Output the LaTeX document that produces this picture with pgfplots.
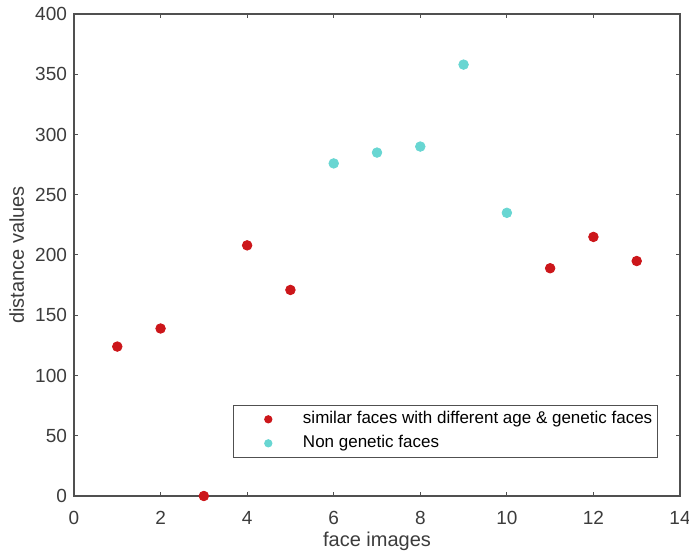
\documentclass[border=0pt]{standalone}
\usepackage{fontspec}
\setmainfont{Liberation Sans}
\usepackage{pgfplots}
\pgfplotsset{compat=1.18}
\definecolor{redpt}{RGB}{204,22,26}
\definecolor{cyanpt}{RGB}{104,214,210}
\definecolor{axgray}{RGB}{80,80,80}
\definecolor{txtgray}{RGB}{60,60,60}
\begin{document}
\begin{tikzpicture}
\begin{axis}[
  scale only axis,
  width=303pt,height=241pt,
  xmin=0,xmax=14,ymin=0,ymax=400,
  xtick={0,2,...,14},ytick={0,50,...,400},
  tick align=inside,
  major tick length=2pt,
  axis line style={axgray,line width=0.7pt},
  tick style={axgray,line width=0.5pt},
  /pgf/number format/assume math mode=true,
  tick label style={font=\fontsize{9.5}{11}\selectfont,text=txtgray},
  xticklabel style={yshift=-4.3pt},
  label style={font=\fontsize{10}{12}\selectfont,text=txtgray},
  xlabel={face images},ylabel={distance values},
  xlabel style={at={(axis description cs:0.5,-0.095)},anchor=center},
  ylabel style={at={(axis description cs:-0.0947,0.5)},anchor=center},
  legend style={at={(0.9637,0.0788)},anchor=south east,
    font=\fontsize{8.5}{10}\selectfont,draw=axgray,line width=0.7pt,
    inner xsep=2.5pt,inner ysep=3pt,row sep=4pt,column sep=0pt,
    nodes={inner sep=0pt,text height=6.2pt,text depth=1.8pt}},
  legend cell align=left,
  legend image code/.code={%
    \path (0pt,0pt) (31.5pt,0pt);
    \draw[#1,mark size=1.7pt] plot coordinates {(14.5pt,0pt)};},
]
\addplot[only marks,mark=*,mark size=2.4pt,draw=redpt,fill=redpt] coordinates {
(1,124) (2,139) (3,0) (4,208) (5,171) (11,189) (12,215) (13,195)};
\addlegendentry{similar faces with different age \& genetic faces}
\addplot[only marks,mark=*,mark size=2.4pt,draw=cyanpt,fill=cyanpt] coordinates {
(6,276) (7,285) (8,290) (9,358) (10,235)};
\addlegendentry{Non genetic faces}
\coordinate (sw) at (rel axis cs:0,0);
\coordinate (ne) at (rel axis cs:1,1);
\end{axis}
\pgfresetboundingbox
\path ([xshift=-37pt,yshift=-29.5pt]sw) rectangle ([xshift=4.5pt,yshift=7pt]ne);
\end{tikzpicture}
\end{document}
